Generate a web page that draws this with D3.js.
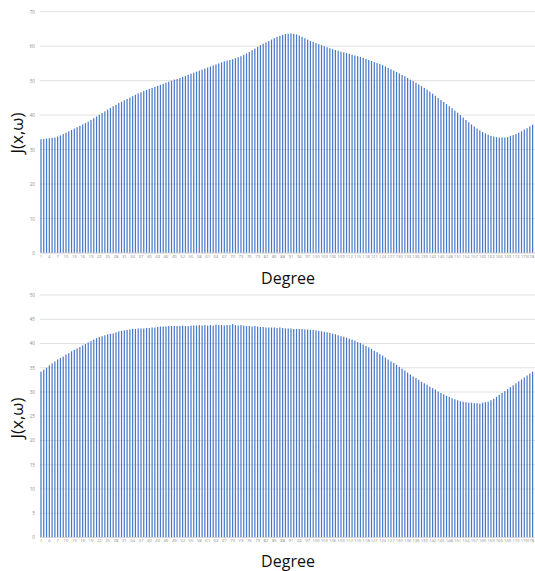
<!DOCTYPE html>
<html><head><meta charset="utf-8">
<script src="https://cdn.jsdelivr.net/npm/d3@7"></script>
<style>html,body{margin:0;padding:0;background:#fff;overflow:hidden}</style>
</head><body>
<svg id="c" width="535" height="571"></svg>
<script>
const degrees = d3.range(1, 179);
const topValues = [33.0,33.1,33.2,33.3,33.4,33.5,33.8,34.1,34.5,34.9,35.3,35.7,36.1,36.5,36.9,37.3,37.7,38.1,38.6,39.1,39.6,40.1,40.6,41.1,41.6,42.1,42.6,43.0,43.5,43.9,44.3,44.7,45.1,45.5,45.9,46.3,46.6,47.0,47.3,47.6,47.9,48.2,48.5,48.8,49.1,49.4,49.7,50.0,50.3,50.5,50.8,51.1,51.4,51.7,52.0,52.3,52.6,52.9,53.2,53.5,53.8,54.1,54.4,54.7,55.0,55.3,55.6,55.8,56.0,56.2,56.5,56.8,57.1,57.5,57.9,58.3,58.8,59.3,59.8,60.3,60.7,61.1,61.5,61.9,62.3,62.7,63.0,63.3,63.5,63.6,63.7,63.6,63.4,63.1,62.7,62.3,61.9,61.5,61.2,60.9,60.6,60.3,60.0,59.7,59.4,59.1,58.9,58.7,58.4,58.2,58.0,57.8,57.5,57.3,57.1,56.9,56.6,56.3,56.0,55.7,55.4,55.1,54.8,54.5,54.1,53.7,53.3,52.9,52.5,52.1,51.7,51.3,50.8,50.3,49.9,49.4,48.9,48.4,47.9,47.4,46.8,46.2,45.6,45.0,44.4,43.8,43.2,42.6,42.0,41.3,40.7,40.0,39.3,38.6,37.9,37.3,36.7,36.1,35.6,35.1,34.7,34.3,34.0,33.8,33.6,33.5,33.5,33.5,33.6,34.0,34.2,34.5,34.9,35.3,35.8,36.2,36.7,37.2];
const bottomValues = [34.2,34.6,35.0,35.5,35.9,36.3,36.7,37.0,37.3,37.7,38.0,38.4,38.7,39.0,39.3,39.6,39.9,40.2,40.5,40.8,41.1,41.3,41.5,41.7,41.9,42.0,42.1,42.3,42.5,42.6,42.7,42.8,42.9,43.0,43.0,43.1,43.1,43.1,43.2,43.2,43.3,43.3,43.4,43.5,43.5,43.5,43.6,43.6,43.6,43.6,43.6,43.7,43.6,43.6,43.7,43.7,43.7,43.8,43.7,43.8,43.7,43.8,43.7,43.9,43.8,43.8,43.7,43.8,43.8,44.0,43.8,43.7,43.8,43.7,43.6,43.6,43.5,43.6,43.5,43.4,43.4,43.3,43.3,43.3,43.3,43.2,43.3,43.2,43.1,43.1,43.1,43.0,43.0,43.0,43.0,42.9,42.9,42.8,42.8,42.7,42.6,42.5,42.4,42.3,42.2,42.0,41.9,41.7,41.5,41.4,41.2,41.0,40.8,40.6,40.3,40.1,39.8,39.5,39.2,38.9,38.5,38.2,37.8,37.5,37.1,36.7,36.3,36.0,35.6,35.2,34.8,34.4,34.0,33.6,33.2,32.9,32.5,32.1,31.8,31.5,31.1,30.8,30.5,30.1,29.8,29.5,29.2,29.0,28.7,28.5,28.3,28.1,28.0,27.9,27.8,27.8,27.7,27.7,27.6,27.8,27.9,28.0,28.3,28.6,29.0,29.4,29.8,30.2,30.6,31.0,31.4,31.8,32.2,32.6,33.0,33.4,33.8,34.2];
const topYTicks = [0,10,20,30,40,50,60,70];
const bottomYTicks = [0,5,10,15,20,25,30,35,40,45,50];
const xTickLabels = degrees.filter(d => (d - 1) % 3 === 0);
const xTitle = "Degree";
const yTitle = "J(x,ω)";

const svg = d3.select("#c");

function chart(cfg) {
  const x = d3.scaleBand().domain(degrees).range([39.6, 534.0]).paddingInner(0.56).paddingOuter(0.28);
  const y = d3.scaleLinear().domain([0, cfg.max]).range([cfg.y0, cfg.y1]);
  const g = svg.append("g");
  g.append("g").selectAll("line").data(cfg.ticks).join("line")
    .attr("x1", 40).attr("x2", 535)
    .attr("y1", d => y(d)).attr("y2", d => y(d))
    .attr("stroke", "#d9d9d9").attr("stroke-width", 0.8);
  const ya = d3.axisLeft(y).tickValues(cfg.ticks).tickSize(0).tickPadding(0);
  const yg = g.append("g").attr("transform", "translate(35,0)").call(ya);
  yg.select(".domain").remove();
  yg.selectAll("text").attr("font-size", 4.6).attr("fill", "#8c8c8c").attr("font-family", "Open Sans, sans-serif");
  g.append("g").selectAll("rect").data(cfg.values).join("rect")
    .attr("x", (d, i) => x(degrees[i]))
    .attr("width", x.bandwidth())
    .attr("y", d => y(d))
    .attr("height", d => y(0) - y(d))
    .attr("fill", "#4a78c8");
  g.append("line").attr("x1", 40).attr("x2", 535).attr("y1", y(0)).attr("y2", y(0))
    .attr("stroke", "#d9d9d9").attr("stroke-width", 0.8);
  const xa = d3.axisBottom(x).tickValues(xTickLabels).tickSize(0).tickPadding(0);
  const xg = g.append("g").attr("transform", `translate(0,${y(0) + 2})`).call(xa);
  xg.select(".domain").remove();
  xg.selectAll("text").attr("font-size", 4.2).attr("fill", "#8c8c8c").attr("font-family", "Open Sans, sans-serif");
  xg.selectAll(".tick").filter(d => d === 178).select("text").attr("text-anchor", "end").attr("dx", "0.35em");
  g.append("text").attr("x", 288).attr("y", cfg.xTitleY).attr("text-anchor", "middle")
    .attr("font-family", "Open Sans, sans-serif").attr("font-size", 16).attr("fill", "#111").text(xTitle);
  g.append("text").attr("transform", `translate(23,${cfg.yTitleC}) rotate(-90)`).attr("text-anchor", "middle")
    .attr("font-family", "Open Sans, sans-serif").attr("font-size", 17).attr("fill", "#111").text(yTitle);
}

chart({values: topValues, max: 70, ticks: topYTicks, y0: 253, y1: 11.7, xTitleY: 284, yTitleC: 133});
chart({values: bottomValues, max: 50, ticks: bottomYTicks, y0: 537.5, y1: 295, xTitleY: 567, yTitleC: 418});
</script>
</body></html>
